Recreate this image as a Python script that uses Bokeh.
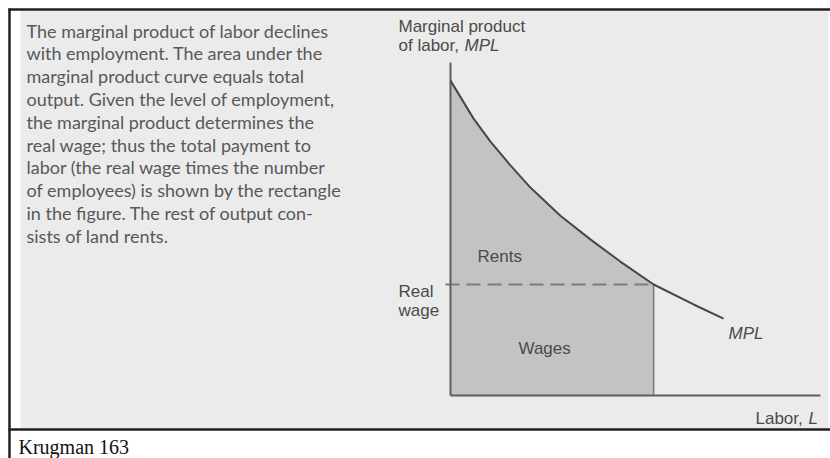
from bokeh.plotting import figure
from bokeh.models import Range1d
from bokeh.core.properties import value
from bokeh.embed import file_html
from bokeh.resources import INLINE

# ---------------- data ----------------
labor = [0.0, 0.62, 1.08, 1.62, 2.16, 2.97, 3.78, 4.59, 5.49, 6.57, 7.38]
mpl = [8.51, 7.49, 6.86, 6.22, 5.62, 4.86, 4.22, 3.62, 3.00, 2.46, 2.08]
employment = 5.49
real_wage = 3.00
axis_x_max = 10.0
axis_y_max = 9.0

caption_lines = [
    "The marginal product of labor declines",
    "with employment. The area under the",
    "marginal product curve equals total",
    "output. Given the level of employment,",
    "the marginal product determines the",
    "real wage; thus the total payment to",
    "labor (the real wage times the number",
    "of employees) is shown by the rectangle",
    "in the figure. The rest of output con-",
    "sists of land rents.",
]
area_labels = ["Rents", "Wages"]
wage_label = ["Real", "wage"]
y_title = ["Marginal product", "of labor,", "MPL"]
x_title = ["Labor,", "L"]
curve_label = "MPL"
source_note = "Krugman 163"

# ---------------- layout helpers (page pixels -> data units) ----------------
OX, OY, S = 450.0, 395.0, 37.0


def X(px):
    return (px - OX) / S


def Y(py):
    return (OY - py) / S


p = figure(width=830, height=458,
           x_range=Range1d(X(0), X(830)), y_range=Range1d(Y(458), Y(0)),
           output_backend="svg", toolbar_location=None, min_border=0,
           background_fill_color="white", border_fill_color="white")
p.outline_line_color = None
p.axis.visible = False
p.grid.visible = False

# scanned-page background
p.quad(left=[X(20)], right=[X(828)], top=[Y(10)], bottom=[Y(428)],
       fill_color="#ebebeb", line_color=None)

# frame lines
FRAME = "#231f20"
p.line([X(8), X(830)], [Y(9), Y(9)], line_color=FRAME, line_width=2.5)
p.line([X(9), X(9)], [Y(8), Y(458)], line_color=FRAME, line_width=2.5)
p.line([X(8), X(830)], [Y(429), Y(429)], line_color=FRAME, line_width=2.5)

# shaded area under MPL up to employment
n = labor.index(employment) + 1
p.varea(x=labor[:n], y1=[0] * n, y2=mpl[:n], fill_color="#c3c3c3")

# rectangle right edge and dashed real-wage line
p.line([employment, employment], [0, real_wage], line_color="#7a7a7a", line_width=1.5)
p.line([X(445), employment], [real_wage, real_wage], line_color="#7d7d7d",
       line_width=2, line_dash="14 7")

# axes
p.line([0, 0], [0, axis_y_max], line_color="#5e5e5e", line_width=2)
p.line([0, axis_x_max], [0, 0], line_color="#5e5e5e", line_width=2)

# MPL curve
p.line(labor, mpl, line_color="#474747", line_width=2)

# ---------------- texts ----------------
SANS = value("Liberation Sans")
CHART_TXT = "#4a4a4a"


def chart_text(x, y, t, italic=False, align="left"):
    p.text(x=[x], y=[y], text=[t], text_font=SANS, text_font_size="17px",
           text_color=CHART_TXT, text_align=align, text_baseline="alphabetic",
           text_font_style="italic" if italic else "normal")


chart_text(X(398), Y(26), y_title[0])
chart_text(X(398), Y(45), y_title[1])
chart_text(X(464), Y(45), y_title[2], italic=True)
chart_text(X(398), Y(291), wage_label[0])
chart_text(X(398), Y(310), wage_label[1])
chart_text(X(477), Y(256), area_labels[0])
chart_text(X(518), Y(348), area_labels[1])
chart_text(X(728), Y(333), curve_label, italic=True)
chart_text(X(755), Y(418), x_title[0])
chart_text(X(808), Y(418), x_title[1], italic=True)

# explanatory paragraph
p.text(x=[X(26)] * len(caption_lines),
       y=[Y(30 + 22.8 * i) for i in range(len(caption_lines))],
       text=caption_lines, text_font=value("Lato"), text_font_size="18px",
       text_color="#585858", text_align="left", text_baseline="alphabetic")

# source note
p.text(x=[X(18)], y=[Y(446)], text=[source_note], text_font=value("Liberation Serif"),
       text_font_size="20px", text_color="#111111", text_align="left",
       text_baseline="alphabetic")

open("out.html", "w").write(file_html(p, INLINE))
